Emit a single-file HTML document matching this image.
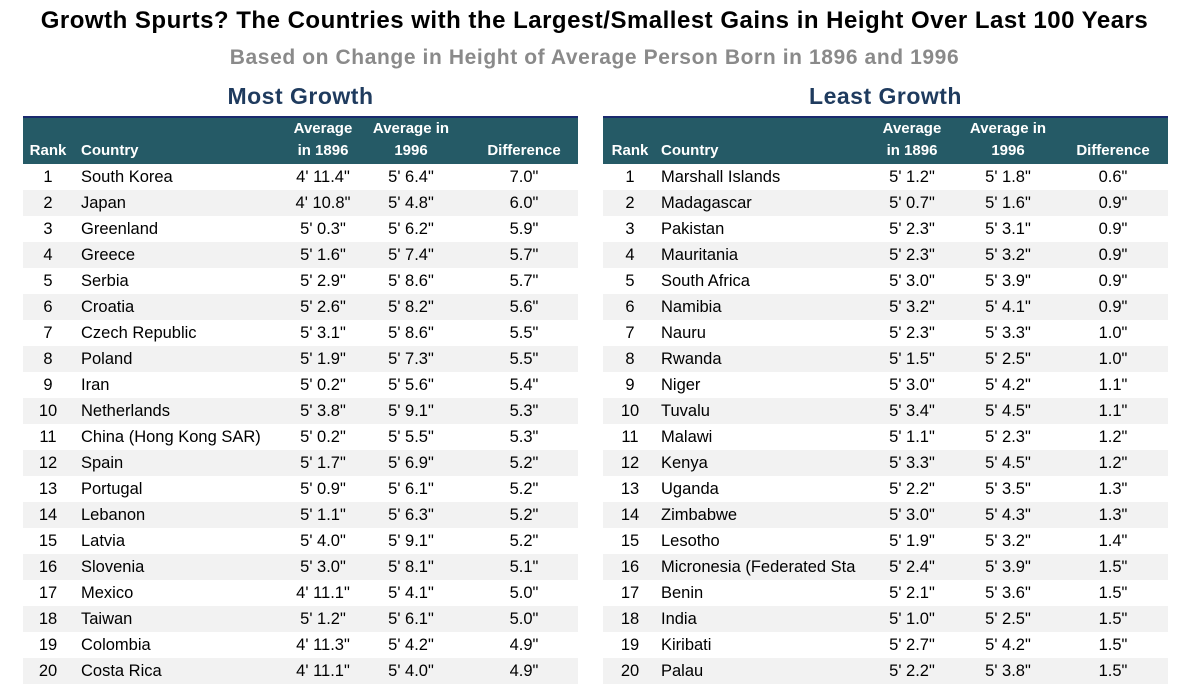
<!DOCTYPE html>
<html><head><meta charset="utf-8"><style>
body{margin:0;width:1189px;height:696px;background:#fff;font-family:"Liberation Sans",sans-serif;position:relative;overflow:hidden}
.abs{position:absolute;white-space:nowrap}
.title{left:0;width:1189px;text-align:center;top:7px;font-size:24px;letter-spacing:0.5px;font-weight:bold;color:#000}
.sub{left:0;width:1189px;text-align:center;top:46px;font-size:21px;letter-spacing:0.6px;font-weight:bold;color:#8a8a8a}
.sect{font-size:23px;letter-spacing:0.5px;font-weight:bold;color:#1f3b5e;top:83px;text-align:center}
.hdr{background:#255a66;border-top:2px solid #1a2a6e;border-bottom:2px solid #1a2a6e;top:116px;height:46px}
.ht{color:#fff;font-weight:bold;font-size:15px;text-align:center;line-height:22px}
.cell{font-size:16.5px;color:#000;line-height:26px}
</style></head><body>
<div class="abs title">Growth Spurts? The Countries with the Largest/Smallest Gains in Height Over Last 100 Years</div>
<div class="abs sub">Based on Change in Height of Average Person Born in 1896 and 1996</div>
<div id="root"></div>
<script>
const mostCountries=["South Korea","Japan","Greenland","Greece","Serbia","Croatia","Czech Republic","Poland","Iran","Netherlands","China (Hong Kong SAR)","Spain","Portugal","Lebanon","Latvia","Slovenia","Mexico","Taiwan","Colombia","Costa Rica"];
const most1896=["4' 11.4\"","4' 10.8\"","5' 0.3\"","5' 1.6\"","5' 2.9\"","5' 2.6\"","5' 3.1\"","5' 1.9\"","5' 0.2\"","5' 3.8\"","5' 0.2\"","5' 1.7\"","5' 0.9\"","5' 1.1\"","5' 4.0\"","5' 3.0\"","4' 11.1\"","5' 1.2\"","4' 11.3\"","4' 11.1\""];
const most1996=["5' 6.4\"","5' 4.8\"","5' 6.2\"","5' 7.4\"","5' 8.6\"","5' 8.2\"","5' 8.6\"","5' 7.3\"","5' 5.6\"","5' 9.1\"","5' 5.5\"","5' 6.9\"","5' 6.1\"","5' 6.3\"","5' 9.1\"","5' 8.1\"","5' 4.1\"","5' 6.1\"","5' 4.2\"","5' 4.0\""];
const mostDiff=["7.0\"","6.0\"","5.9\"","5.7\"","5.7\"","5.6\"","5.5\"","5.5\"","5.4\"","5.3\"","5.3\"","5.2\"","5.2\"","5.2\"","5.2\"","5.1\"","5.0\"","5.0\"","4.9\"","4.9\""];
const leastCountries=["Marshall Islands","Madagascar","Pakistan","Mauritania","South Africa","Namibia","Nauru","Rwanda","Niger","Tuvalu","Malawi","Kenya","Uganda","Zimbabwe","Lesotho","Micronesia (Federated Sta","Benin","India","Kiribati","Palau"];
const least1896=["5' 1.2\"","5' 0.7\"","5' 2.3\"","5' 2.3\"","5' 3.0\"","5' 3.2\"","5' 2.3\"","5' 1.5\"","5' 3.0\"","5' 3.4\"","5' 1.1\"","5' 3.3\"","5' 2.2\"","5' 3.0\"","5' 1.9\"","5' 2.4\"","5' 2.1\"","5' 1.0\"","5' 2.7\"","5' 2.2\""];
const least1996=["5' 1.8\"","5' 1.6\"","5' 3.1\"","5' 3.2\"","5' 3.9\"","5' 4.1\"","5' 3.3\"","5' 2.5\"","5' 4.2\"","5' 4.5\"","5' 2.3\"","5' 4.5\"","5' 3.5\"","5' 4.3\"","5' 3.2\"","5' 3.9\"","5' 3.6\"","5' 2.5\"","5' 4.2\"","5' 3.8\""];
const leastDiff=["0.6\"","0.9\"","0.9\"","0.9\"","0.9\"","0.9\"","1.0\"","1.0\"","1.1\"","1.1\"","1.2\"","1.2\"","1.3\"","1.3\"","1.4\"","1.5\"","1.5\"","1.5\"","1.5\"","1.5\""];
const root=document.getElementById('root');
function mk(cls,name,txt,css){const d=document.createElement('div');d.className='abs '+cls;


if(txt!==null)d.innerHTML=txt;Object.assign(d.style,css);root.appendChild(d);return d;}
function table(key,title,x0,w,cx,countries,a,b,diff){
 mk('sect',key+'-title',title,{left:x0+'px',width:w+'px'});
 mk('hdr',key+'-header',null,{left:x0+'px',width:w+'px'});
 const hs=[['Rank',cx.rank,0],['Country',cx.country,1],['Average<br>in 1896',cx.a,0],['Average in<br>1996',cx.b,0],['Difference',cx.d,0]];
 hs.forEach((h,i)=>{const d=mk('ht',key+'-header-'+i,h[0],{top:(h[0].includes('<br>')?118:140)+'px'});
  if(h[2]){d.style.left=h[1]+'px';d.style.textAlign='left';}else{d.style.left=(h[1]-60)+'px';d.style.width='120px';}});
 countries.forEach((c,i)=>{const y=164+i*26;
  const r=mk('',key+'-row-'+(i+1),null,{left:x0+'px',width:w+'px',top:y+'px',height:'26px',background:i%2?'#f2f2f2':'#fff'});
  const vals=[[String(i+1),cx.rank],[c,cx.country,1],[a[i],cx.a],[b[i],cx.b],[diff[i],cx.d]];
  vals.forEach((v,j)=>{const d=mk('cell',key+'-cell-'+(i+1)+'-'+j,v[0],{top:y+'px'});
   if(v[2]){d.style.left=v[1]+'px';d.style.width=(cx.a-cx.country-44)+'px';d.style.overflow='hidden';}
   else{d.style.left=(v[1]-60)+'px';d.style.width='120px';d.style.textAlign='center';}});
 });
}
table('most-growth','Most Growth',23,555,{rank:48,country:81,a:323,b:411,d:524},mostCountries,most1896,most1996,mostDiff);
table('least-growth','Least Growth',603,565,{rank:630,country:661,a:912,b:1008,d:1113},leastCountries,least1896,least1996,leastDiff);
</script>
</body></html>
